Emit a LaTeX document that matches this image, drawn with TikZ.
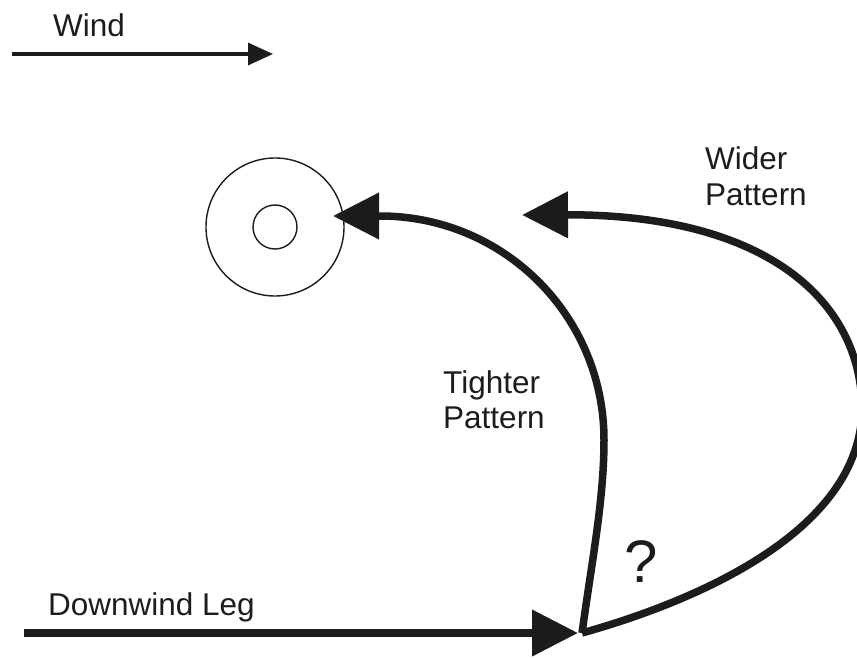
\documentclass[tikz,border=0pt]{standalone}
\usepackage{fontspec}
\setmainfont{Liberation Sans}
\usetikzlibrary{arrows.meta}
\definecolor{ink}{HTML}{1C1C1C}
\begin{document}
\begin{tikzpicture}[x=1pt,y=-1pt,
  lbl/.style={anchor=base west,inner sep=0pt,text=ink,font=\fontsize{31.5}{35}\selectfont},
  thick path/.style={draw=ink,line width=7.5pt},
  bighead/.style={-{Triangle[length=46pt,width=45pt]}},
  thin ring/.style={draw=ink,line width=1.4pt}]
\useasboundingbox (0,0) rectangle (857,658);
% wind
\node[lbl] (wind) at (53,37) {Wind};
\coordinate (w0) at (12,54);
\coordinate (w1) at (273,54);
\draw[draw=ink,line width=3.2pt,-{Triangle[length=25pt,width=22pt]}] (w0) -- (w1);
% target
\node[thin ring,circle,minimum size=138pt,inner sep=0pt] (outer) at (275,227) {};
\node[thin ring,circle,minimum size=44pt,inner sep=0pt] (inner) at (275,227) {};
% downwind
\node[lbl] (dw) at (48,615) {Downwind Leg};
\coordinate (d0) at (24,633);
\coordinate (turn) at (582,633);
\draw[thick path,bighead] (d0) -- (578,633);
% tighter
\coordinate (tr) at (604,440);
\coordinate (ttop) at (380,216);
\coordinate (ttip) at (333,216);
\draw[thick path,bighead,line join=round] (turn) .. controls (592,560) and (604,500) .. (tr)
   .. controls (604,316) and (504,216) .. (ttop) -- (ttip);
% wider
\coordinate (wr) at (862,410);
\coordinate (wtip) at (522,215);
\draw[thick path,bighead,line join=round] (turn) .. controls (700,600) and (860,530) .. (wr)
   .. controls (862,300) and (765,214) .. (wtip);
% labels
\node[lbl] (wider1) at (705,170) {Wider};
\node[lbl] (wider2) at (705,205) {Pattern};
\node[lbl] (tight1) at (443,393) {Tighter};
\node[lbl] (tight2) at (443,428) {Pattern};
\node[lbl,font=\fontsize{60}{60}\selectfont] (q) at (624,582) {?};
\end{tikzpicture}
\end{document}
